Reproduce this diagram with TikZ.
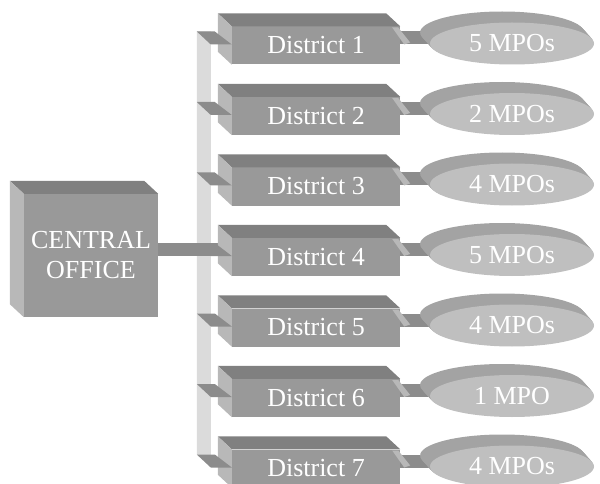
\documentclass[tikz,border=0pt]{standalone}
\usepackage{fontspec}
\setmainfont{Liberation Serif}
\usetikzlibrary{positioning,shapes.geometric,calc,backgrounds}

\definecolor{frontgray}{gray}{0.6}
\definecolor{topgray}{gray}{0.5}
\definecolor{sidegray}{gray}{0.72}
\definecolor{bargray}{gray}{0.86}
\definecolor{linkgray}{gray}{0.55}
\definecolor{discgray}{gray}{0.75}
\definecolor{rimgray}{gray}{0.64}

\begin{document}
\begin{tikzpicture}[x=1pt, y=-1pt,
  face/.style={
    fill=frontgray, inner sep=0pt, text=white,
    font=\fontsize{26}{30}\selectfont
  },
  district/.style={face, minimum width=168pt, minimum height=38pt},
  office/.style={face, align=center, minimum width=134pt, minimum height=123pt},
  mpo/.style={
    ellipse, fill=discgray, inner sep=0pt, text=white,
    minimum width=164pt, minimum height=42pt,
    font=\fontsize{26}{30}\selectfont
  },
  topface/.style={fill=topgray},
  sideface/.style={fill=sidegray},
  link/.style={fill=linkgray}
]
\useasboundingbox (0,0) rectangle (600,484);

\node[office] (office) at (91,255.5) {CENTRAL\\OFFICE};

\foreach \i/\n in {1/5 MPOs,2/2 MPOs,3/4 MPOs,4/5 MPOs,5/4 MPOs,6/1 MPO,7/4 MPOs} {
  \pgfmathsetmacro{\y}{45.5+70.5*(\i-1)}
  \node[district] (d\i) at (316,\y) {District \i};
  % disc of the MPOs
  \coordinate (mc\i) at (512,\y-2);
  \foreach \k in {11,...,1}
    \fill[rimgray] ($(mc\i)+(-0.9*\k,-\k)$) ellipse [x radius=82pt, y radius=21pt];
  \node[mpo] (m\i) at (mc\i) {\n};
}

% 3d faces of the boxes
\foreach \b in {office,d1,d2,d3,d4,d5,d6,d7} {
  \fill[topface] (\b.north west) -- ++(-14,-13)
    -- ([shift={(-14,-13)}]\b.north east) -- (\b.north east) -- cycle;
  \fill[sideface] (\b.north west) -- ++(-14,-13)
    -- ([shift={(-14,-13)}]\b.south west) -- (\b.south west) -- cycle;
}

% stubs from the bus to the districts
\foreach \i in {1,...,7} {
  \fill[link] ($(d\i.west)+(-35,-14)$) -- ($(d\i.west)+(-17,-14)$)
    -- ($(d\i.west)+(0,-1)$) -- ($(d\i.west)+(-21,-1)$) -- cycle;
  \fill[sideface] ($(d\i.east)+(-8,-18)$) -- ($(d\i.east)+(-2,-18)$)
    -- ($(d\i.east)+(10,-3)$) -- ($(d\i.east)+(4,-1)$) -- cycle;
}

\begin{scope}[on background layer]
  \fill[bargray] ($(d1.west)+(-35,-14)$) -- ($(d1.west)+(-21,-14)$)
    -- ($(d7.west)+(-21,-1)$) -- ($(d7.west)+(-35,-14)$) -- cycle;
  \fill[link] ($(office.east |- d4.west)+(0,-14)$) rectangle ($(d4.west)+(0,-1)$);
  \foreach \i in {1,...,7}
    \fill[link] ($(d\i.east)+(0,-14)$) rectangle ($(m\i.west)+(6,1)$);
\end{scope}

\end{tikzpicture}
\end{document}
